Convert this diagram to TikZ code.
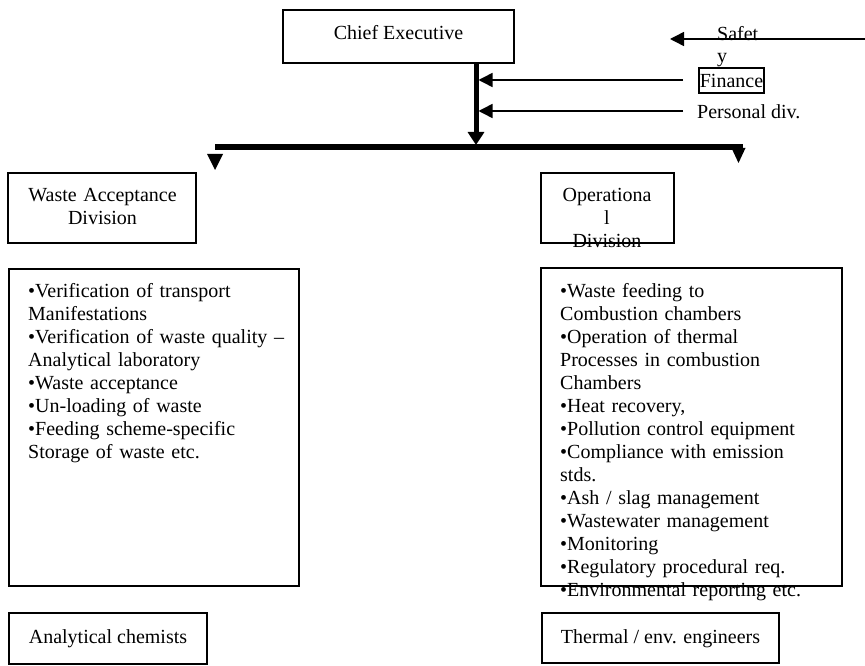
\documentclass[tikz,border=0pt]{standalone}
\usepackage{fontspec}
\setmainfont{Liberation Serif}
\usetikzlibrary{arrows.meta}
\begin{document}
\begin{tikzpicture}[x=1pt,y=-1pt,
  box/.style={draw, line width=1.3pt, inner sep=0pt},
  txt/.style={font=\fontsize{20}{23}\selectfont, inner sep=0pt},
  thinarrow/.style={line width=1.5pt, -{Triangle[length=14pt,width=14pt]}},
  heavyarrow/.style={line width=5pt, -{Triangle[length=13pt,width=16pt]}},
  bar/.style={line width=6pt}]
\useasboundingbox (0,0) rectangle (865,666);

% Chief Executive
\node[box, minimum width=231pt, minimum height=53pt] (chief) at (398.5,36.5) {};
\node[txt, anchor=base] (chieft) at (398.5,40) {Chief Executive};

% side labels
\node[txt, anchor=base west, text width=50pt, align=left] (safety) at (717,41) {Safet\\[-1pt]y};
\node[draw, line width=1.8pt, txt, inner xsep=1pt, minimum height=25pt] (finance) at (731.5,80.5) {Finance};
\node[txt, anchor=base west] (personal) at (697,119) {Personal div.};

% coordinates
\coordinate (safeS) at (865,39);
\coordinate (safeE) at (670,39);
\coordinate (finS) at (683,80);
\coordinate (perS) at (683,111);
\coordinate (vx) at (476,63);
\coordinate (hj) at (476,147);
\coordinate (hl) at (215,147);
\coordinate (hr) at (743,147);

% connectors
\draw[thinarrow] (safeS) -- (safeE);
\draw[thinarrow] (finS) -- (478.5,80);
\draw[thinarrow] (perS) -- (478.5,111);
\draw[heavyarrow] (vx) -- (476,145);
\draw[bar] (hl) -- (hr);
\fill (207,154) -- (223,154) -- (215,170) -- cycle;
\fill (731.5,148) -- (745.5,148) -- (738.5,163) -- cycle;

% divisions
\node[box, minimum width=188pt, minimum height=70pt] (wad) at (102,208) {};
\node[txt, anchor=base, text width=180pt, align=center] (wadt) at (102.5,201) {Waste Acceptance\\Division};

\node[box, minimum width=133pt, minimum height=70pt] (opd) at (607.5,208) {};
\node[txt, anchor=base, text width=120pt, align=center] (opdt) at (607,201) {Operationa\\l\\Division};

% task boxes
\node[box, minimum width=290pt, minimum height=317pt] (wtask) at (154,427.5) {};
\node[txt, anchor=base west, text width=275pt, align=left] (wtaskt) at (28,297) {%
•Verification of transport\\
Manifestations\\
•Verification of waste quality –\\
Analytical laboratory\\
•Waste acceptance\\
•Un-loading of waste\\
•Feeding scheme-specific\\
Storage of waste etc.};

\node[box, minimum width=301pt, minimum height=318pt] (otask) at (691.5,427) {};
\node[txt, anchor=base west, text width=300pt, align=left] (otaskt) at (560,297) {%
•Waste feeding to\\
Combustion chambers\\
•Operation of thermal\\
Processes in combustion\\
Chambers\\
•Heat recovery,\\
•Pollution control equipment\\
•Compliance with emission\\
stds.\\
•Ash / slag management\\
•Wastewater management\\
•Monitoring\\
•Regulatory procedural req.\\
•Environmental reporting etc.};

% staff boxes
\node[box, minimum width=198pt, minimum height=51pt] (chem) at (108,638.5) {};
\node[txt, anchor=base] (chemt) at (108,643) {Analytical chemists};
\node[box, minimum width=237pt, minimum height=50pt] (eng) at (660.5,638) {};
\node[txt, anchor=base] (engt) at (660.5,643) {Thermal / env. engineers};
\end{tikzpicture}
\end{document}
